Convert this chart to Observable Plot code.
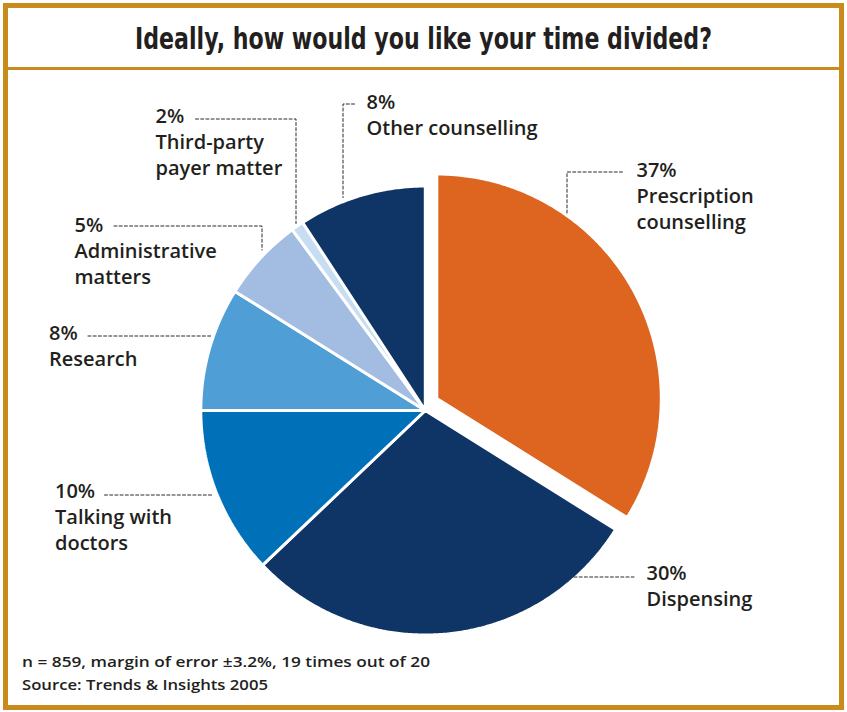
<!DOCTYPE html>
<html>
<head>
<meta charset="utf-8">
<script src="https://cdn.jsdelivr.net/npm/d3@7"></script>
<script src="https://cdn.jsdelivr.net/npm/@observablehq/plot@0.6"></script>
<style>
  html, body { margin: 0; padding: 0; background: #fff; }
  #wrap { position: relative; width: 847px; height: 712px; overflow: hidden; background: #fff; }
  #frame { position: absolute; left: 3px; top: 3px; width: 831px; height: 697px; border: 5px solid #C98B1C; }
  #sep { position: absolute; left: 8px; top: 67px; width: 831px; height: 3px; background: #C98B1C; }
  .fit { position: absolute; white-space: nowrap; color: #231F20; display: inline-block; }
  #title { font-family: "Liberation Sans Narrow", "Arial Narrow", "DejaVu Sans Condensed", "Open Sans", sans-serif;
           font-weight: bold; font-size: 30px; line-height: 30px; top: 24px; left: 135px; transform-origin: 0 0; }
  .foot { font-family: "Open Sans", sans-serif;
          font-weight: 600; font-size: 15px; line-height: 16px; left: 22px; transform-origin: 0 0; }
  #chart { position: absolute; left: 0; top: 72px; }
</style>
</head>
<body>
<div id="wrap">
  <div id="frame"></div>
  <div id="sep"></div>
  <span id="title" class="fit"></span>
  <div id="chart"></div>
  <span id="foot1" class="fit foot" style="top:653px"></span>
  <span id="foot2" class="fit foot" style="top:676px"></span>
</div>
<script>
// ---------------- data ----------------
const titleText = "Ideally, how would you like your time divided?";
const footnoteLines = ["n = 859, margin of error \u00b13.2%, 19 times out of 20", "Source: Trends & Insights 2005"];

const categories = ["Prescription counselling", "Dispensing", "Talking with doctors", "Research",
                    "Administrative matters", "Third-party payer matter", "Other counselling"];
// printed percentages
const percentLabels = ["37%", "30%", "10%", "8%", "5%", "2%", "8%"];
// slice sizes as drawn in the picture (percent of the circle)
const sliceShares = [33.9, 29.0, 12.1, 8.9, 6.0, 0.9, 9.2];
// label text lines under the percentage
const nameLines = [["Prescription", "counselling"], ["Dispensing"], ["Talking with", "doctors"], ["Research"],
                   ["Administrative", "matters"], ["Third-party", "payer matter"], ["Other counselling"]];

// ---------------- styles / layout ----------------
const palette = ["#DD6520", "#0E3566", "#0071B9", "#4F9ED6", "#A3BDE2", "#C7DDF2", "#0E3566"];
const pie = {cx: 424.8, cy: 410, r: 224.5, explodeIndex: 0, explodeDx: 11.5, explodeDy: -12};
const fontSize = 20, lineHeightPx = 26;
const labelLayout = [
  {x: 636, base: 172,   leader: [[622, 171.5], [566.5, 171.5], [566.5, 212.5]]},
  {x: 646, base: 575,   leader: [[573.5, 576.5], [633.5, 576.5]]},
  {x: 54.5, base: 493.5, leader: [[104, 494.5], [212, 494.5]]},
  {x: 48.5, base: 335.5, leader: [[87.5, 335.5], [212, 335.5]]},
  {x: 74, base: 227,    leader: [[113.5, 225.5], [261.5, 225.5], [261.5, 249.5]]},
  {x: 155, base: 118,   leader: [[195, 118.5], [295.5, 118.5], [295.5, 223]]},
  {x: 366, base: 104.5, leader: [[354, 103.5], [342.5, 103.5], [342.5, 197]]}
];
const svgTop = 72, svgHeight = 573;

// ---------------- geometry from shares ----------------
const total = d3.sum(sliceShares);
let acc = 0;
const slices = sliceShares.map((v, i) => {
  const a0 = acc / total * 2 * Math.PI;
  acc += v;
  const a1 = acc / total * 2 * Math.PI;
  const ox = i === pie.explodeIndex ? pie.explodeDx : 0;
  const oy = i === pie.explodeIndex ? pie.explodeDy : 0;
  const cx = pie.cx + ox, cy = pie.cy + oy;
  const n = Math.max(2, Math.ceil((a1 - a0) / (Math.PI / 360)));
  const pts = [{x: cx, y: cy}];
  for (let k = 0; k <= n; k++) {
    const a = a0 + (a1 - a0) * k / n;
    pts.push({x: cx + pie.r * Math.sin(a), y: cy - pie.r * Math.cos(a)});
  }
  return {category: categories[i], color: palette[i], pts};
});

const labelRows = categories.map((c, i) => ({
  x: labelLayout[i].x,
  y: labelLayout[i].base - 0.71 * fontSize,
  text: [percentLabels[i], ...nameLines[i]].join("\n")
}));

const leaderRows = labelLayout.flatMap((l, i) => l.leader.map(([x, y]) => ({x, y, k: i})));

const chart = Plot.plot({
  width: 847,
  height: svgHeight,
  margin: 0,
  x: {type: "linear", domain: [0, 847], range: [0, 847], axis: null},
  y: {type: "linear", domain: [svgTop, svgTop + svgHeight], range: [0, svgHeight], axis: null},
  style: {background: "transparent", overflow: "visible"},
  marks: [
    ...slices.map(s => Plot.line(s.pts, {x: "x", y: "y", curve: "linear-closed",
                                        fill: s.color, stroke: "white", strokeWidth: 3, strokeLinejoin: "miter"})),
    Plot.line(leaderRows, {x: "x", y: "y", z: "k", stroke: "#2a2a2a", strokeWidth: 1,
                           strokeDasharray: "3,2.2", strokeLinejoin: "miter"}),
    Plot.text(labelRows, {x: "x", y: "y", text: "text", textAnchor: "start", lineAnchor: "top",
                          lineHeight: lineHeightPx / fontSize, fontSize: fontSize, fontWeight: 600,
                          fontFamily: "Open Sans", fill: "#231F20"})
  ]
});
document.getElementById("chart").appendChild(chart);

// ---------------- text (title & footnote) fitted to measured widths ----------------
function fit(id, text, left, width) {
  const el = document.getElementById(id);
  el.textContent = text;
  const w = el.getBoundingClientRect().width;
  el.style.left = left + "px";
  el.style.transform = `scaleX(${width / w})`;
}
fit("title", titleText, 135, 577);
fit("foot1", footnoteLines[0], 22, 408);
fit("foot2", footnoteLines[1], 22, 246);
</script>
</body>
</html>
